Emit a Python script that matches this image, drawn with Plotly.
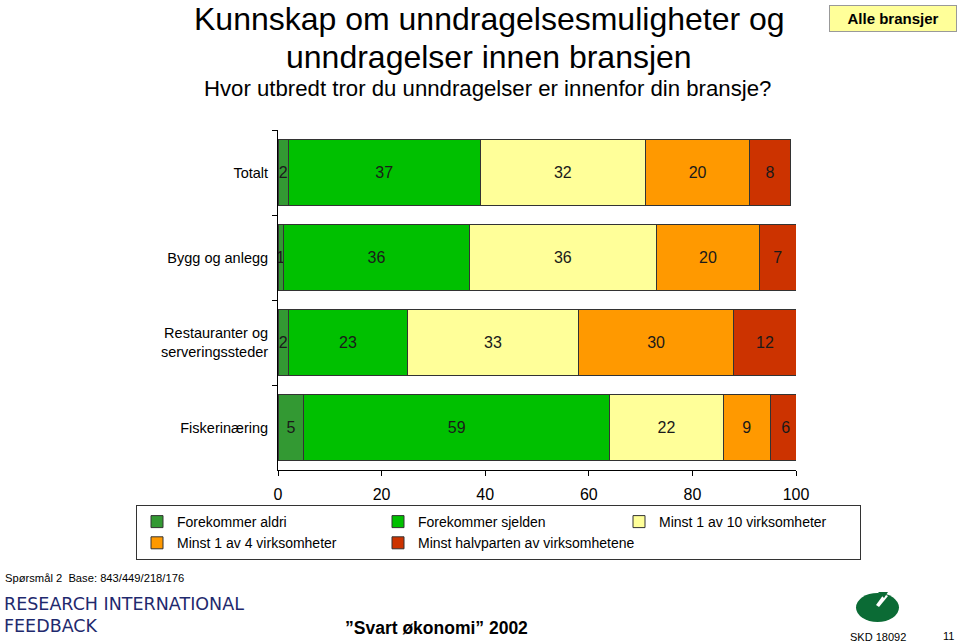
import plotly.graph_objects as go

categories = ["Totalt", "Bygg og anlegg", "Restauranter og<br>serveringssteder", "Fiskerinæring"]
series_names = ["Forekommer aldri", "Forekommer sjelden", "Minst 1 av 10 virksomheter",
                "Minst 1 av 4 virksomheter", "Minst halvparten av virksomhetene"]
aldri = [2, 1, 2, 5]
sjelden = [37, 36, 23, 59]
minst_10 = [32, 36, 33, 22]
minst_4 = [20, 20, 30, 9]
halvparten = [8, 7, 12, 6]
x_ticks = [0, 20, 40, 60, 80, 100]

series_values = [aldri, sjelden, minst_10, minst_4, halvparten]
colors = ["#339933", "#00C000", "#FFFF99", "#FF9900", "#CC3300"]

FONT = "Liberation Sans, Arial, sans-serif"

fig = go.Figure()
for name, vals, col in zip(series_names, series_values, colors):
    fig.add_trace(go.Bar(
        y=categories, x=vals, name=name, orientation="h",
        marker=dict(color=col, line=dict(color="#333333", width=1)),
        text=[str(v) for v in vals], textposition="inside",
        insidetextanchor="middle", constraintext="none",
        textfont=dict(family=FONT, size=16, color="#1a1a1a"),
        hoverinfo="x+name",
    ))

# plot area in pixels
L, R, T, B = 278, 796, 130, 470
W, H = 960, 643


def px(x):
    return (x - L) / (R - L)


def py(y):
    return (B - y) / (B - T)


fig.update_layout(
    width=W, height=H,
    barmode="stack", bargap=0.23,
    margin=dict(l=L, r=W - R, t=T, b=H - B),
    plot_bgcolor="white", paper_bgcolor="white",
    font=dict(family=FONT, size=13, color="black"),
    xaxis=dict(range=[0, 100], tickvals=x_ticks, showgrid=False, zeroline=False,
               showline=True, linecolor="black", linewidth=1,
               ticks="outside", ticklen=5, tickcolor="black",
               tickfont=dict(size=16), ticklabelstandoff=5, fixedrange=True),
    yaxis=dict(autorange="reversed", showgrid=False, zeroline=False,
               showline=True, linecolor="black", linewidth=1,
               ticks="outside", ticklen=5, tickcolor="black", tickson="boundaries",
               tickfont=dict(size=14.5), ticklabelstandoff=6, fixedrange=True),
    legend=dict(orientation="h", x=px(136), y=py(505), xanchor="left", yanchor="top",
                bordercolor="#333333", borderwidth=1, entrywidth=196,
                font=dict(size=14), traceorder="normal", itemclick=False,
                itemdoubleclick=False),
    showlegend=True,
)

anns = [
    dict(text="Kunnskap om unndragelsesmuligheter og",
         x=px(489), y=py(19), font=dict(size=32), xanchor="center", yanchor="middle"),
    dict(text="unndragelser innen bransjen",
         x=px(489), y=py(57), font=dict(size=32), xanchor="center", yanchor="middle"),
    dict(text="Hvor utbredt tror du unndragelser er innenfor din bransje?",
         x=px(487), y=py(88), font=dict(size=22.2), xanchor="center", yanchor="middle"),
    dict(text="<b>Alle bransjer</b>", x=px(893), y=py(18), font=dict(size=15),
         xanchor="center", yanchor="middle", bgcolor="#FFFF99", bordercolor="#999999",
         borderwidth=1, width=124, height=23),
    dict(text="Spørsmål 2  Base: 843/449/218/176", x=px(3), y=py(578),
         font=dict(size=11.2), xanchor="left", yanchor="middle"),
    dict(text="RESEARCH INTERNATIONAL", x=px(2), y=py(604),
         font=dict(size=17.5, family="DejaVu Sans", color="#1F2A6E"), xanchor="left", yanchor="middle"),
    dict(text="FEEDBACK", x=px(2), y=py(626),
         font=dict(size=17.5, family="DejaVu Sans", color="#1F2A6E"), xanchor="left", yanchor="middle"),
    dict(text="<b>”Svart økonomi” 2002</b>", x=px(436), y=py(628),
         font=dict(size=17.5), xanchor="center", yanchor="middle"),
    dict(text="SKD 18092", x=px(878), y=py(637), font=dict(size=11),
         xanchor="center", yanchor="middle"),
    dict(text="11", x=px(948), y=py(636), font=dict(size=11),
         xanchor="center", yanchor="middle"),
]
for a in anns:
    a.update(xref="paper", yref="paper", showarrow=False)
    fig.add_annotation(**a)

# SKD logo
fig.add_shape(type="circle", xref="paper", yref="paper",
              x0=px(856), x1=px(899), y0=py(593), y1=py(622),
              fillcolor="#0B6B35", line=dict(width=0))
fig.add_shape(type="path", xref="paper", yref="paper",
              path=f"M {px(876)},{py(605)} L {px(884)},{py(594)} L {px(888)},{py(596)} L {px(879)},{py(607)} Z",
              fillcolor="white", line=dict(width=0))
fig.add_shape(type="path", xref="paper", yref="paper",
              path=f"M {px(878)},{py(592)} L {px(888)},{py(592)} L {px(884)},{py(598)} Z",
              fillcolor="#0B6B35", line=dict(width=0))

fig.write_html("out.html", config={"displayModeBar": False},
               post_script="document.body.style.margin='0';document.body.style.overflow='hidden';")
